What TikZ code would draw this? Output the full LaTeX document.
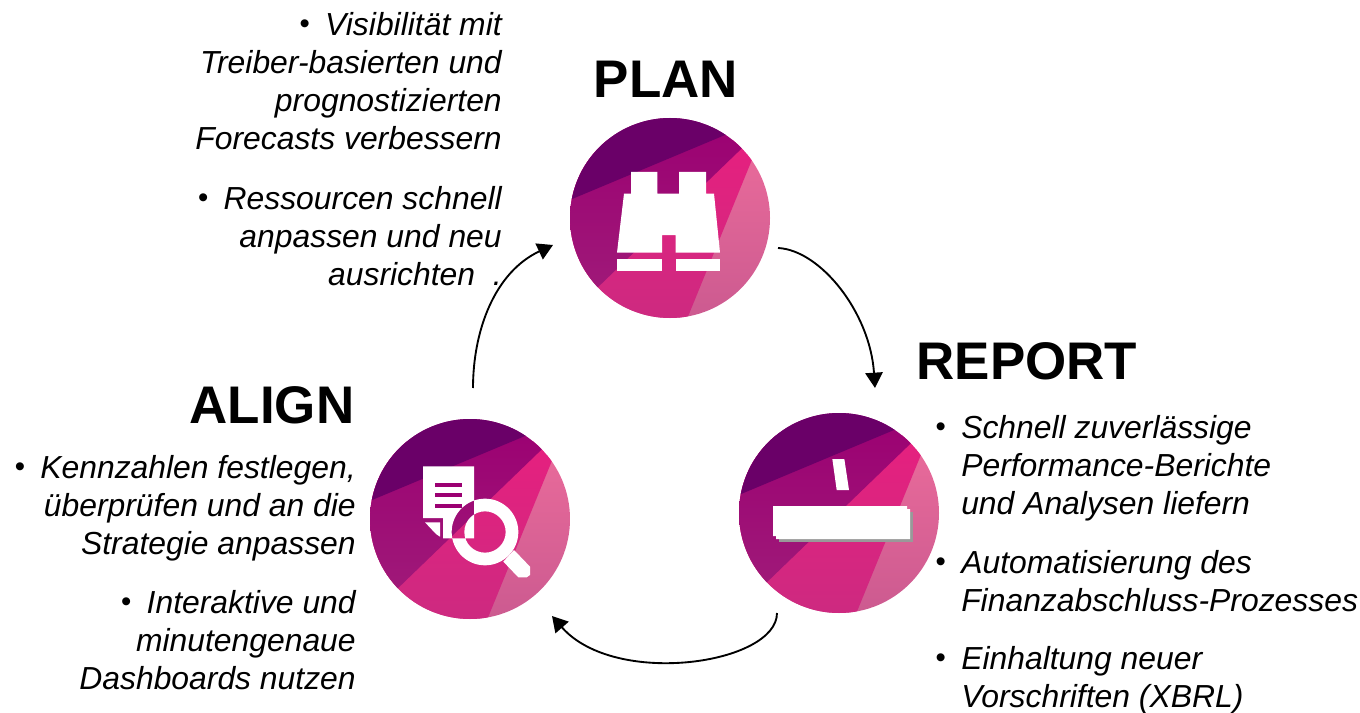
\documentclass[tikz,border=0pt]{standalone}
\usepackage{fontspec}
\setmainfont{Liberation Sans}
\usetikzlibrary{arrows.meta}
\definecolor{bdark}{HTML}{6A0068}
\definecolor{bmidt}{HTML}{9B0072}
\definecolor{bmidb}{HTML}{A01E7A}
\definecolor{bpinkt}{HTML}{E6207F}
\definecolor{bpinkb}{HTML}{CC2A80}
\definecolor{blightt}{HTML}{E86A9A}
\definecolor{blightb}{HTML}{CC5A90}
\definecolor{bshadow}{HTML}{999999}
\tikzset{
  badgenode/.style={circle,minimum size=150pt,inner sep=0pt},
  title/.style={font=\fontsize{39.7}{46}\selectfont\bfseries,inner sep=0pt,anchor=base},
  body/.style={font=\fontsize{23.9}{28.5}\selectfont\itshape,inner sep=0pt},
  bodyR/.style={body,align=right,anchor=north east},
  bodyL/.style={body,align=left,anchor=north west},
  flow/.style={black,line width=1.4pt,-{Triangle[length=11.5pt,width=13pt]}},
}
\newcommand{\badgefill}[3]{%
  \node[badgenode] (#1) at (#2,#3) {};
  \begin{scope}[shift={(#2,#3)},x=.25pt,y=-.25pt]
    \clip (0,0) circle[radius=300];
    \shade[top color=blightt,bottom color=blightb]
      (-320,-190) rectangle (320,300);
    \shade[top color=bpinkt,middle color=bpinkb,bottom color=bpinkb]
      (270,-234) -- (40,330) -- (-320,330) -- (-320,-234) -- cycle;
    \shade[top color=bmidt,bottom color=bmidb]
      (260,-252) -- (-340,327) -- (-340,-300) -- (260,-300) -- cycle;
    \fill[bdark] (-320,-46) -- (220,-272) -- (220,-320) -- (-320,-320) -- cycle;
  \end{scope}}
\newcommand{\bul}{\raisebox{1.5pt}{\fontsize{22}{22}\selectfont\upshape •}}
\newcommand{\bulletmark}{\llap{\bul\hspace{11.5pt}}}
\newcommand{\lbar}{\rule{0pt}{19.9pt}}
\begin{document}
\begin{tikzpicture}[x=.75pt,y=-.75pt]
\useasboundingbox (0,0) rectangle (1360,713);
\badgefill{plan}{670}{218}
\badgefill{align}{470}{519}
\badgefill{report}{839}{513}
% binoculars
\begin{scope}[shift={(560,130)},x=.25pt,y=-.25pt]
  \fill[white] (213,126) -- (292,126) -- (292,191) -- (357,191) -- (357,126) -- (438,126) -- (438,191) -- (462,191)
    -- (480,368) -- (347,368) -- (347,315) -- (306,315) -- (306,368) -- (171,368) -- (192,191) -- (213,191) -- cycle;
  \fill[white] (171,387) rectangle (306,423);
  \fill[white] (347,387) rectangle (480,423);
\end{scope}
% document and magnifier
\begin{scope}[shift={(360,410)},x=.25pt,y=-.25pt]
  \fill[white,even odd rule] (189,169) -- (342,169) -- (342,385) -- (249,385) -- (249,324) -- (189,324) -- cycle
    (375,366) circle[radius=100] (375,366) circle[radius=62];
  \fill[white] (195,337) -- (240,337) -- (240,380) -- (228,372) -- cycle;
  \fill[white] (430,455) -- (462,420) -- (510,470) -- (510,495) -- (500,502) -- (475,502) -- cycle;
  \fill[bmidt] (225,218) rectangle (306,231);
  \fill[bmidt] (225,249) rectangle (306,261);
  \fill[bmidt] (225,282) rectangle (306,294);
\end{scope}
% report icon
\begin{scope}[shift={(730,410)},x=.25pt,y=-.25pt]
  \fill[white] (307,147) -- (343,147) -- (357,240) -- (320,240) -- cycle;
  \fill[bshadow] (147,305) rectangle (549,395);
  \fill[white] (129,288) -- (531,288) -- (531,297) -- (540,297) -- (540,387) -- (138,387) -- (138,378) -- (129,378) -- cycle;
\end{scope}
% titles
\node[title] (tplan) at (666,98) {PLAN};
\node[title] (treport) at (1027,379) {REPORT};
\node[title] (talign) at (272,423) {ALIGN};
% plan text
\node[bodyR] (p1) at (502,9) {\lbar\bul\hspace{11.5pt}Visibilität mit\\Treiber-basierten und\\prognostizierten\\Forecasts verbessern};
\node[bodyR] (p2) at (502,183) {\lbar\bul\hspace{11.5pt}Ressourcen schnell\\anpassen und neu\\ausrichten\ \ .};
% align text
\node[bodyR] (a1) at (356,452) {\lbar\bul\hspace{11.5pt}Kennzahlen festlegen,\\überprüfen und an die\\Strategie anpassen};
\node[bodyR] (a2) at (356,587) {\lbar\bul\hspace{11.5pt}Interaktive und\\minutengenaue\\Dashboards nutzen};
% report text
\node[bodyL] (r1) at (961,412) {\lbar\bulletmark Schnell zuverlässige\\Performance-Berichte\\und Analysen liefern};
\node[bodyL] (r2) at (961,547) {\lbar\bulletmark Automatisierung des\\Finanzabschluss-Prozesses};
\node[bodyL] (r3) at (961,643) {\lbar\bulletmark Einhaltung neuer\\Vorschriften (XBRL)};
% connectors
\coordinate (planout) at (778,248);
\coordinate (reportin) at (875,388);
\coordinate (reportout) at (777,613);
\coordinate (alignin) at (552,616);
\coordinate (alignout) at (473,388);
\coordinate (planin) at (553,245);
\draw[flow] (planout) .. controls (820,250) and (870,312) .. (reportin);
\draw[flow] (reportout) .. controls (777,664) and (615,688) .. (alignin);
\draw[flow] (alignout) .. controls (473,330) and (495,272) .. (planin);
\end{tikzpicture}
\end{document}
